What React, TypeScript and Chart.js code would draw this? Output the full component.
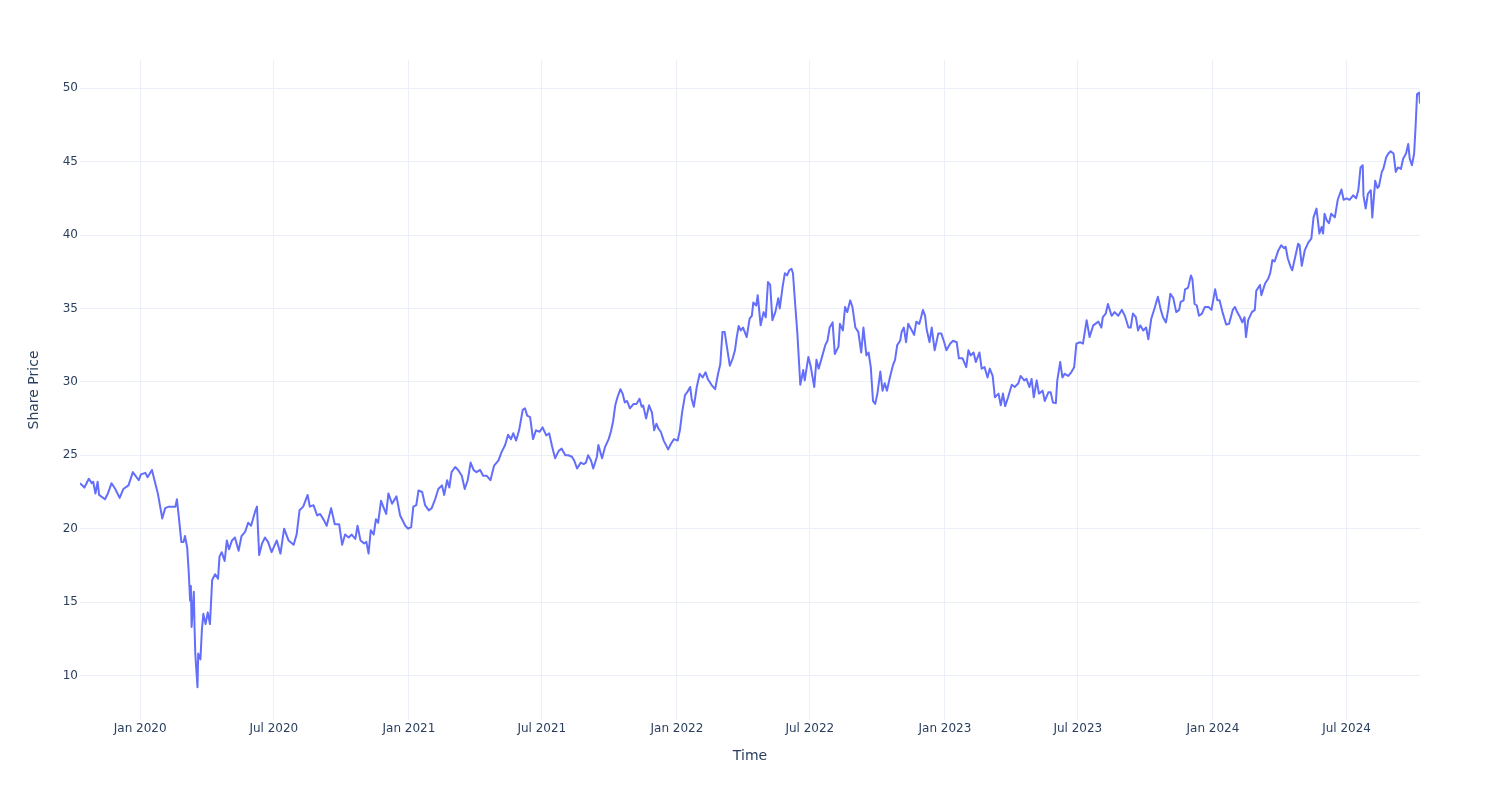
import React, { useEffect, useRef } from 'react';
import { Chart, registerables } from 'chart.js';

Chart.register(...registerables);

// Days relative to 1 Jan 2020
const dayOffsets = [
  -82, -76, -70, -66, -64, -61, -58, -56, -48, -44, -39, -34, -28, -23, -16, -10, -2, 1, 7, 10,
  16, 24, 30, 34, 39, 43, 48, 50, 53, 56, 59, 61, 64, 66, 68, 69, 70, 73, 74, 75,
  78, 79, 82, 84, 86, 89, 92, 95, 98, 102, 106, 108, 111, 115, 118, 121, 125, 129, 134, 138,
  143, 147, 151, 157, 159, 162, 166, 170, 174, 179, 186, 191, 196, 202, 209, 213, 217, 222, 228, 231,
  236, 241, 245, 250, 254, 260, 265, 271, 275, 279, 284, 288, 293, 296, 300, 305, 308, 311, 314, 318,
  321, 324, 328, 331, 335, 338, 343, 349, 354, 361, 365, 369, 372, 376, 379, 384, 388, 393, 397, 402,
  406, 411, 414, 418, 421, 424, 429, 433, 438, 442, 446, 450, 454, 458, 463, 467, 472, 477, 482, 488,
  492, 497, 501, 505, 508, 512, 516, 521, 524, 527, 531, 535, 539, 544, 548, 553, 557, 561, 565, 570,
  574, 579, 583, 588, 591, 595, 600, 604, 607, 610, 614, 617, 622, 624, 629, 633, 638, 641, 644, 647,
  650, 654, 657, 660, 663, 667, 672, 676, 680, 683, 685, 689, 693, 697, 700, 703, 706, 709, 713, 719,
  723, 727, 732, 735, 738, 742, 745, 749, 751, 754, 758, 762, 766, 770, 773, 778, 783, 787, 790, 793,
  796, 799, 803, 807, 810, 812, 815, 818, 821, 826, 830, 833, 835, 839, 841, 845, 849, 852, 855, 858,
  861, 865, 869, 871, 875, 878, 881, 884, 887, 889, 892, 895, 899, 901, 903, 905, 910, 913, 918, 921,
  924, 928, 933, 936, 939, 943, 946, 951, 953, 957, 960, 963, 967, 970, 974, 978, 982, 985, 989, 992,
  995, 998, 1001, 1004, 1008, 1011, 1014, 1017, 1021, 1025, 1028, 1031, 1035, 1037, 1040, 1043, 1046, 1051, 1054, 1057,
  1061, 1063, 1066, 1069, 1071, 1075, 1078, 1082, 1087, 1091, 1095, 1098, 1103, 1107, 1112, 1115, 1120, 1125, 1128, 1131,
  1135, 1138, 1143, 1146, 1150, 1154, 1157, 1161, 1164, 1169, 1172, 1175, 1178, 1182, 1187, 1191, 1196, 1199, 1204, 1207,
  1211, 1214, 1217, 1221, 1224, 1229, 1232, 1237, 1240, 1243, 1247, 1249, 1253, 1256, 1259, 1264, 1268, 1272, 1275, 1280,
  1284, 1289, 1293, 1298, 1305, 1309, 1311, 1315, 1318, 1323, 1327, 1332, 1337, 1341, 1346, 1349, 1352, 1356, 1359, 1362,
  1366, 1370, 1373, 1377, 1382, 1386, 1390, 1393, 1397, 1400, 1403, 1407, 1411, 1415, 1417, 1421, 1423, 1427, 1431, 1433,
  1436, 1439, 1442, 1446, 1450, 1455, 1459, 1464, 1467, 1470, 1474, 1479, 1483, 1488, 1491, 1494, 1498, 1501, 1504, 1506,
  1509, 1514, 1518, 1520, 1525, 1527, 1532, 1536, 1539, 1542, 1545, 1550, 1554, 1558, 1560, 1563, 1567, 1569, 1573, 1577,
  1579, 1582, 1586, 1591, 1595, 1598, 1602, 1606, 1609, 1611, 1613, 1616, 1619, 1622, 1627, 1631, 1636, 1639, 1643, 1647,
  1652, 1656, 1659, 1662, 1665, 1666, 1669, 1672, 1676, 1678, 1682, 1685, 1687, 1691, 1693, 1697, 1700, 1703, 1707, 1710,
  1713, 1717, 1720, 1724, 1727, 1729, 1732, 1735, 1737, 1739, 1742, 1743,
];

const sharePrice = [
  23.1, 22.8, 23.4, 23.1, 23.2, 22.4, 23.2, 22.3, 22.0, 22.4, 23.1, 22.7, 22.1, 22.7, 22.95, 23.85, 23.3, 23.7, 23.8, 23.5,
  24.0, 22.4, 20.7, 21.4, 21.5, 21.5, 21.5, 22.0, 20.6, 19.1, 19.1, 19.5, 18.7, 17.1, 15.1, 16.1, 13.3, 15.7, 13.3, 11.5,
  9.2, 11.5, 11.1, 13.1, 14.2, 13.5, 14.3, 13.5, 16.5, 16.9, 16.6, 18.1, 18.4, 17.8, 19.2, 18.6, 19.2, 19.4, 18.5, 19.5,
  19.8, 20.4, 20.2, 21.25, 21.5, 18.2, 19.0, 19.4, 19.1, 18.4, 19.2, 18.3, 20.0, 19.2, 18.9, 19.6, 21.25, 21.5, 22.3, 21.5,
  21.6, 20.9, 21.0, 20.6, 20.2, 21.4, 20.3, 20.3, 18.9, 19.6, 19.4, 19.6, 19.3, 20.2, 19.2, 19.0, 19.1, 18.3, 19.9, 19.6,
  20.65, 20.4, 21.9, 21.5, 21.0, 22.4, 21.7, 22.2, 20.9, 20.2, 20.0, 20.1, 21.5, 21.6, 22.6, 22.5, 21.6, 21.25, 21.4, 22.05,
  22.7, 22.95, 22.3, 23.3, 22.8, 23.85, 24.2, 24.0, 23.6, 22.7, 23.3, 24.5, 24.0, 23.85, 24.0, 23.6, 23.6, 23.3, 24.3, 24.65,
  25.2, 25.7, 26.4, 26.1, 26.5, 26.0, 26.7, 28.1, 28.2, 27.7, 27.6, 26.1, 26.7, 26.6, 26.9, 26.35, 26.5, 25.6, 24.8, 25.3,
  25.45, 25.0, 25.0, 24.9, 24.65, 24.1, 24.5, 24.4, 24.5, 25.0, 24.65, 24.1, 24.9, 25.7, 24.8, 25.55, 26.1, 26.6, 27.3, 28.4,
  28.95, 29.5, 29.2, 28.6, 28.7, 28.2, 28.5, 28.5, 28.85, 28.3, 28.4, 27.5, 28.4, 27.9, 26.7, 27.15, 26.8, 26.6, 26.0, 25.4,
  25.8, 26.1, 26.0, 26.7, 27.9, 29.1, 29.3, 29.65, 28.85, 28.3, 29.65, 30.55, 30.3, 30.65, 30.2, 29.8, 29.5, 30.55, 31.2, 33.4,
  33.4, 32.4, 31.1, 31.6, 32.15, 32.9, 33.8, 33.5, 33.7, 33.05, 34.3, 34.5, 35.4, 35.2, 35.9, 33.85, 34.75, 34.4, 36.8, 36.6,
  34.2, 34.75, 35.7, 35.0, 36.5, 37.4, 37.25, 37.6, 37.7, 37.4, 35.3, 33.3, 29.8, 30.3, 30.8, 30.1, 31.7, 31.1, 29.65, 31.5,
  30.9, 31.6, 32.5, 32.8, 33.7, 34.05, 31.9, 32.4, 33.95, 33.5, 35.1, 34.75, 35.55, 35.1, 33.7, 33.4, 32.0, 33.7, 31.8, 32.0,
  31.0, 28.7, 28.5, 29.2, 30.7, 29.4, 29.9, 29.4, 30.3, 31.1, 31.5, 32.5, 32.8, 33.4, 33.7, 32.7, 33.95, 33.5, 33.2, 34.1,
  33.95, 34.3, 34.9, 34.5, 33.6, 32.7, 33.7, 32.15, 33.3, 33.3, 32.7, 32.15, 32.6, 32.8, 32.7, 31.6, 31.6, 31.0, 32.15, 31.8,
  32.0, 31.35, 32.0, 30.9, 31.0, 30.3, 30.9, 30.4, 28.95, 29.2, 28.4, 29.2, 28.35, 28.95, 29.8, 29.65, 29.9, 30.4, 30.1, 30.2,
  29.65, 30.2, 28.95, 30.1, 29.2, 29.4, 28.7, 29.3, 29.3, 28.6, 28.55, 30.1, 31.35, 30.3, 30.55, 30.4, 30.65, 31.0, 32.6, 32.7,
  32.6, 34.2, 33.05, 33.85, 34.1, 33.7, 34.4, 34.65, 35.3, 34.5, 34.75, 34.5, 34.9, 34.5, 33.7, 33.7, 34.65, 34.4, 33.5, 33.85,
  33.5, 33.7, 32.9, 34.3, 35.1, 35.8, 34.9, 34.4, 34.05, 34.9, 36.0, 35.7, 34.75, 34.9, 35.45, 35.55, 36.3, 36.4, 37.25, 37.0,
  35.3, 35.2, 34.5, 34.65, 35.1, 35.1, 34.9, 36.3, 35.55, 35.55, 34.75, 33.9, 33.95, 34.9, 35.1, 34.75, 34.4, 34.05, 34.4, 33.05,
  34.2, 34.75, 34.9, 36.2, 36.6, 35.9, 36.7, 37.0, 37.4, 38.3, 38.2, 38.95, 39.3, 39.1, 39.2, 38.4, 37.8, 37.6, 38.5, 39.4,
  39.3, 37.9, 38.95, 39.5, 39.75, 41.2, 41.8, 40.1, 40.55, 40.1, 41.45, 41.0, 40.8, 41.45, 41.2, 42.4, 43.1, 42.4, 42.5, 42.4,
  42.7, 42.5, 43.05, 44.6, 44.75, 42.7, 41.8, 42.8, 43.05, 41.2, 43.7, 43.2, 43.3, 44.3, 44.5, 45.3, 45.55, 45.7, 45.55, 44.3,
  44.6, 44.5, 45.2, 45.55, 46.2, 45.2, 44.75, 45.55, 47.4, 49.6, 49.7, 48.95,
];

const xTickDays = [0, 182, 366, 547, 731, 912, 1096, 1277, 1461, 1643];
const xTickLabels = [
  'Jan 2020', 'Jul 2020', 'Jan 2021', 'Jul 2021', 'Jan 2022',
  'Jul 2022', 'Jan 2023', 'Jul 2023', 'Jan 2024', 'Jul 2024',
];
const yTickValues = [10, 15, 20, 25, 30, 35, 40, 45, 50];

const FONT = "'DejaVu Sans', sans-serif";
const TEXT = '#2a3f5f';
const GRID = '#EBF0F8';

export default function App() {
  const ref = useRef<HTMLCanvasElement>(null);

  useEffect(() => {
    const points = dayOffsets.map((d, i) => ({ x: d, y: sharePrice[i] }));
    const chart = new Chart(ref.current as HTMLCanvasElement, {
      type: 'line',
      data: {
        datasets: [
          {
            data: points,
            borderColor: '#636efa',
            borderWidth: 2,
            pointRadius: 0,
            tension: 0,
            fill: false,
            borderJoinStyle: 'round',
          },
        ],
      },
      options: {
        animation: false,
        responsive: false,
        devicePixelRatio: 1,
        layout: { padding: { left: 0, right: 80, top: 60, bottom: 0 } },
        plugins: { legend: { display: false }, tooltip: { enabled: false } },
        scales: {
          x: {
            type: 'linear',
            min: -82,
            max: 1743,
            afterBuildTicks: (s: any) => {
              s.ticks = xTickDays.map((v) => ({ value: v }));
            },
            afterFit: (s: any) => {
              s.height = 80;
            },
            grid: { color: GRID, lineWidth: 1, drawTicks: false },
            border: { display: false },
            ticks: {
              autoSkip: false,
              maxRotation: 0,
              padding: 2,
              color: TEXT,
              font: { family: FONT, size: 12 },
              callback: (v: any) => {
                const i = xTickDays.indexOf(Number(v));
                return i >= 0 ? xTickLabels[i] : '';
              },
            },
            title: {
              display: true,
              text: 'Time',
              color: TEXT,
              font: { family: FONT, size: 14 },
              padding: { top: 0, bottom: 35 },
            },
          },
          y: {
            type: 'linear',
            min: 6.97,
            max: 51.92,
            afterBuildTicks: (s: any) => {
              s.ticks = yTickValues.map((v) => ({ value: v }));
            },
            afterFit: (s: any) => {
              s.width = 80;
            },
            grid: { color: GRID, lineWidth: 1, drawTicks: false },
            border: { display: false },
            ticks: {
              padding: 2,
              color: TEXT,
              font: { family: FONT, size: 12 },
              callback: (v: any) => String(v),
            },
            title: {
              display: true,
              text: 'Share Price',
              color: TEXT,
              font: { family: FONT, size: 14 },
              padding: { top: 26, bottom: 0 },
            },
          },
        },
      },
    });
    return () => chart.destroy();
  }, []);

  return (
    <div style={{ position: 'fixed', left: 0, top: 0, width: 1500, height: 800, background: '#fff' }}>
      <canvas ref={ref} width={1500} height={800} style={{ display: 'block' }} />
    </div>
  );
}
